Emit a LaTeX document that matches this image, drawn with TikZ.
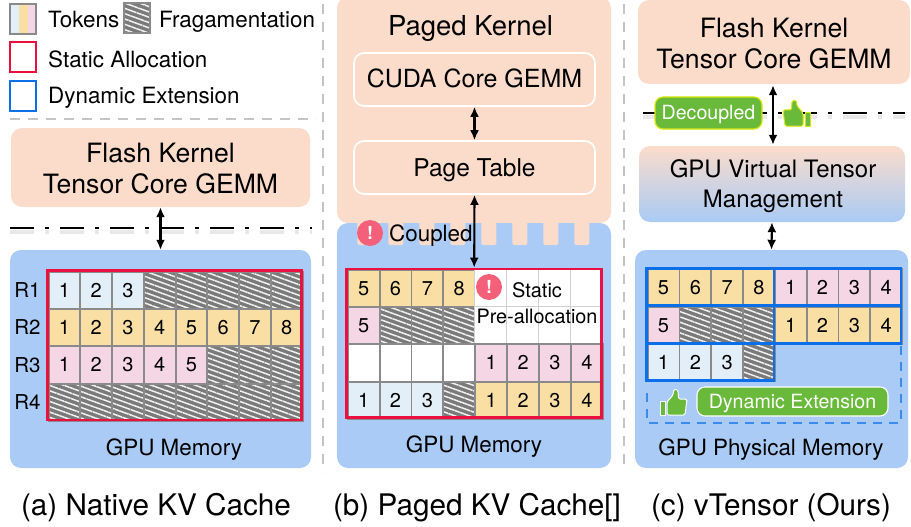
\documentclass[tikz,border=0pt]{standalone}
\usepackage{fontspec}
\setmainfont{TeX Gyre Heros}
\usetikzlibrary{patterns.meta,arrows.meta,shadings,calc}
\definecolor{korange}{HTML}{FBDCCB}
\definecolor{mblue}{HTML}{A9CBF5}
\definecolor{tblue}{HTML}{E3EFF8}
\definecolor{tyellow}{HTML}{F9DFA4}
\definecolor{tpink}{HTML}{F5D6E4}
\definecolor{sred}{HTML}{EC1040}
\definecolor{dblue}{HTML}{0A6FE8}
\definecolor{cellgray}{HTML}{8A8A8A}
\definecolor{sepgray}{HTML}{C4C4C4}
\definecolor{goodgreen}{HTML}{69B93A}
\definecolor{alertred}{HTML}{F4607A}
\newcommand{\fsz}[1]{\fontsize{#1}{#1}\selectfont}
\tikzset{
 x=1pt,y=-1pt,
 panel/.style={rounded corners=11pt,inner sep=0pt},
 kernel/.style={panel,fill=korange},
 ktext/.style={inner sep=0pt,align=center,font=\fsz{26.6}},
 vtext/.style={inner sep=0pt,align=center,font=\fsz{24}},
 mem/.style={panel,fill=mblue},
 inner box/.style={rounded corners=10pt,draw=white,line width=1.6pt,fill=korange,inner sep=0pt,text height=19pt,text depth=2pt},
 sep/.style={draw=sepgray,line width=1.5pt,dash pattern=on 10pt off 8pt},
 dbl/.style={{Latex[length=10pt,width=9pt]}-{Latex[length=10pt,width=9pt]},line width=2.1pt},
 dashdot/.style={line width=2pt,dash pattern=on 24pt off 11pt on 4pt off 11pt},
 shadowline/.style={line width=4pt,draw=black!9,dash pattern=on 24pt off 11pt on 4pt off 11pt},
 cell/.style={draw=cellgray,line width=1.9pt,inner sep=0pt,anchor=north west,font=\fsz{20},text height=15pt,text depth=1pt},
 A/.style={cell,minimum width=31.75pt,minimum height=37.3pt},
 B/.style={cell,minimum width=31.9pt,minimum height=37.2pt},
 C/.style={cell,minimum width=31.8pt,minimum height=37.4pt},
 blue cell/.style={fill=tblue},
 yellow cell/.style={fill=tyellow},
 pink cell/.style={fill=tpink},
 empty cell/.style={fill=white},
 thin cell/.style={fill=white,draw=black!18,line width=.7pt},
 frag/.style={preaction={fill=black!52},pattern={Lines[angle=-20,distance=5pt,line width=1.5pt]},pattern color=white!95!black},
 label/.style={inner sep=0pt,font=\fsz{22.4},text height=18pt,text depth=2pt},
 rlabel/.style={inner sep=0pt,font=\fsz{20.5},text height=16pt,text depth=1pt},
 legend/.style={label,anchor=west},
 caption/.style={inner sep=0pt,font=\fsz{29.7},text height=24pt,text depth=3pt},
 sred box/.style={draw=sred,line width=2.8pt},
 dblue box/.style={draw=dblue,line width=2.8pt},
 alert/.style={circle,fill=alertred,text=white,minimum size=26pt,inner sep=0pt,font=\bfseries\fsz{18}},
 pill/.style={rounded corners=8pt,fill=goodgreen,text=white,inner sep=0pt,font=\fsz{19.6},text height=16pt,text depth=2pt},
}
\newcommand{\thumbup}[5]{%
 \begin{scope}[shift={(#1,#2)},xscale=#3]
  \fill[goodgreen,draw=#4,line width=1pt] (0,12) rectangle (5,26);
  \fill[goodgreen,draw=#4,line width=1pt,rounded corners=1.5pt,rotate=#5]
   (7,13) -- (13,6) -- (14,0) -- (18,1) -- (18.5,10) -- (27,10) -- (25,26) -- (7,26) -- cycle;
 \end{scope}}
\begin{document}
\begin{tikzpicture}
\useasboundingbox (0,0) rectangle (911,527);
\fill[white] (0,0) rectangle (911,527);
% separators
\coordinate (sa1) at (323,4); \coordinate (sa2) at (323,472);
\coordinate (sb1) at (624,4); \coordinate (sb2) at (624,472);
\coordinate (sc1) at (10,119); \coordinate (sc2) at (316,119);
\draw[sep] (sa1) -- (sa2);
\draw[sep] (sb1) -- (sb2);
\draw[sep] (sc1) -- (sc2);
% legend
\fill[tblue] (10,4) rectangle (19,34);
\fill[tyellow] (19,4) rectangle (28,34);
\fill[tpink] (28,4) rectangle (36,34);
\draw[draw=cellgray,line width=1.8pt] (10,4) rectangle (36,34);
\node[legend] (lt) at (48,20) {Tokens};
\path[frag,draw=cellgray,line width=1.8pt] (124,3) rectangle (150,33);
\node[legend] (lf) at (159,20) {Fragamentation};
\draw[sred box] (10,42) rectangle (36,72);
\node[legend] (ls) at (48,59) {Static Allocation};
\draw[dblue box] (10,81) rectangle (36,111);
\node[legend] (ld) at (48,95) {Dynamic Extension};
% ---------- panel a
\node[kernel,minimum width=299pt,minimum height=79pt] (ka) at (160.5,167.5) {};
\node[ktext] (kat) at (160.5,168.5) {Flash Kernel\\[4.4pt]Tensor Core GEMM};
\node[mem,minimum width=301pt,minimum height=218pt] (ma) at (160.5,359) {};
\coordinate (la1) at (10,232); \coordinate (la2) at (312,232);
\coordinate (lb1) at (10,228); \coordinate (lb2) at (312,228);
\draw[shadowline] (la1) -- (la2);
\draw[dashdot] (lb1) -- (lb2);
\draw[dbl] (ka.south) -- (ma.north);
\foreach \r/\y in {R1/290,R2/327,R3/364.5,R4/402}
  \node[rlabel] (lab\r) at (27.5,\y) {\r};
\foreach \i/\s/\t in {0/blue cell/1,1/blue cell/2,2/blue cell/3,3/frag/,4/frag/,5/frag/,6/frag/,7/frag/}
  \node[A,\s] (a1\i) at (47.7+\i*31.75,270.7) {\t};
\foreach \i/\t in {0/1,1/2,2/3,3/4,4/5,5/6,6/7,7/8}
  \node[A,yellow cell] (a2\i) at (47.7+\i*31.75,308) {\t};
\foreach \i/\s/\t in {0/pink cell/1,1/pink cell/2,2/pink cell/3,3/pink cell/4,4/pink cell/5,5/frag/,6/frag/,7/frag/}
  \node[A,\s] (a3\i) at (47.7+\i*31.75,345.3) {\t};
\foreach \i in {0,...,7}
  \node[A,frag] (a4\i) at (47.7+\i*31.75,382.6) {};
\draw[sred box] (47.7,270.7) rectangle (301.7,420);
\node[label] (ga) at (174,447) {GPU Memory};
% ---------- panel b
\node[panel,fill=korange,minimum width=274pt,minimum height=226pt] (kb) at (474,110) {};
\node[mem,minimum width=274pt,minimum height=245pt] (mb) at (474,345.5) {};
\foreach \i in {0,...,7}
  \fill[korange,rounded corners=1.5pt] (357.3+\i*31,220) rectangle ++(15,25);
\node[inner sep=0pt,font=\fsz{27.5},text height=21pt,text depth=2pt] (pk) at (470.5,26) {Paged Kernel};
\node[inner box,font=\fsz{25},minimum width=241pt,minimum height=53pt] (cuda) at (474.5,79.5) {CUDA Core GEMM};
\node[inner box,font=\fsz{24.5},minimum width=241pt,minimum height=53pt] (pt) at (474.5,167.5) {Page Table};
\draw[dbl] (cuda.south) -- (pt.north);
\node[alert] (ca) at (370,233) {!};
\node[label,anchor=west] (coupled) at (389,233) {Coupled};
\foreach \i/\s/\t in {0/yellow cell/5,1/yellow cell/6,2/yellow cell/7,3/yellow cell/8,4/thin cell/,5/thin cell/,6/thin cell/,7/thin cell/}
  \node[B,\s] (b1\i) at (346.7+\i*31.9,269) {\t};
\foreach \i/\s/\t in {0/pink cell/5,1/frag/,2/frag/,3/frag/,4/thin cell/,5/thin cell/,6/thin cell/,7/thin cell/}
  \node[B,\s] (b2\i) at (346.7+\i*31.9,306.2) {\t};
\foreach \i/\s/\t in {0/empty cell/,1/empty cell/,2/empty cell/,3/empty cell/,4/pink cell/1,5/pink cell/2,6/pink cell/3,7/pink cell/4}
  \node[B,\s] (b3\i) at (346.7+\i*31.9,343.4) {\t};
\foreach \i/\s/\t in {0/blue cell/1,1/blue cell/2,2/blue cell/3,3/frag/,4/yellow cell/1,5/yellow cell/2,6/yellow cell/3,7/yellow cell/4}
  \node[B,\s] (b4\i) at (346.7+\i*31.9,380.6) {\t};
\node[sred box,minimum width=255pt,minimum height=148.8pt,inner sep=0pt] (gb) at (474.2,343.4) {};
\draw[dbl] (pt.south) -- (gb.north);
\node[alert] (sa) at (489,287) {!};
\node[inner sep=0pt,font=\fsz{20},text height=16pt,text depth=2pt] (st) at (537,290) {Static};
\node[inner sep=0pt,font=\fsz{19.8},text height=16pt,text depth=2pt] (pa) at (537,316) {Pre-allocation};
\node[label] (gmb) at (474,444) {GPU Memory};
% ---------- panel c
\node[kernel,minimum width=272pt,minimum height=84pt] (kc) at (774,42) {};
\node[ktext] (kct) at (774,43.5) {Flash Kernel\\[4pt]Tensor Core GEMM};
\node[panel,top color=korange,bottom color=mblue,middle color=korange!50!mblue,minimum width=266pt,minimum height=76pt] (vt) at (772,184) {};
\node[vtext] (vtt) at (773,186) {GPU Virtual Tensor\\[5.5pt]Management};
\node[mem,minimum width=273pt,minimum height=218pt] (mc) at (771.5,359) {};
\coordinate (lc1) at (643,117); \coordinate (lc2) at (905,117);
\coordinate (ld1) at (643,113); \coordinate (ld2) at (905,113);
\draw[shadowline] (lc1) -- (lc2);
\draw[dashdot] (ld1) -- (ld2);
\draw[dbl] ($(kc.south -| vt.north)+(1,1)$) -- ($(vt.north)+(1,-1)$);
\draw[dbl] (vt.south) -- (mc.north);
\node[pill,draw=yellow!85!green,line width=1.2pt,minimum width=107pt,minimum height=32pt] (dec) at (708.5,113) {Decoupled};
\thumbup{810}{100}{-1}{yellow!85!green}{0}
\foreach \i/\s/\t in {0/yellow cell/5,1/yellow cell/6,2/yellow cell/7,3/yellow cell/8,4/pink cell/1,5/pink cell/2,6/pink cell/3,7/pink cell/4}
  \node[C,\s] (c1\i) at (646.7+\i*31.8,268.3) {\t};
\foreach \i/\s/\t in {0/pink cell/5,1/frag/,2/frag/,3/frag/,4/yellow cell/1,5/yellow cell/2,6/yellow cell/3,7/yellow cell/4}
  \node[C,\s] (c2\i) at (646.7+\i*31.8,305.7) {\t};
\foreach \i/\s/\t in {0/blue cell/1,1/blue cell/2,2/blue cell/3,3/frag/}
  \node[C,\s] (c3\i) at (646.7+\i*31.8,343.1) {\t};
\draw[dblue box] (646.7,268.3) rectangle (901,305.5);
\draw[dblue box] (646.7,306) rectangle (901,343.3);
\draw[dblue box] (646.7,343.3) rectangle (774,380.7);
\draw[dblue box] (774,268.3) -- (774,343.3);
\draw[draw=dblue!70!mblue,line width=1.2pt,dash pattern=on 9pt off 7pt] (901,346) -- (901,423) -- (647,423) -- (647,386);
\thumbup{660}{389}{1}{white}{0}
\node[pill,draw=white,line width=1.1pt,minimum width=191pt,minimum height=29pt] (dyn) at (792.5,401.5) {Dynamic Extension};
\node[label] (gmc) at (771,447) {GPU Physical Memory};
% captions
\node[caption] (cpa) at (156,505) {(a) Native KV Cache};
\node[caption] (cpb) at (477,505) {(b) Paged KV Cache[]};
\node[caption] (cpc) at (771,505) {(c) vTensor (Ours)};
\end{tikzpicture}
\end{document}
